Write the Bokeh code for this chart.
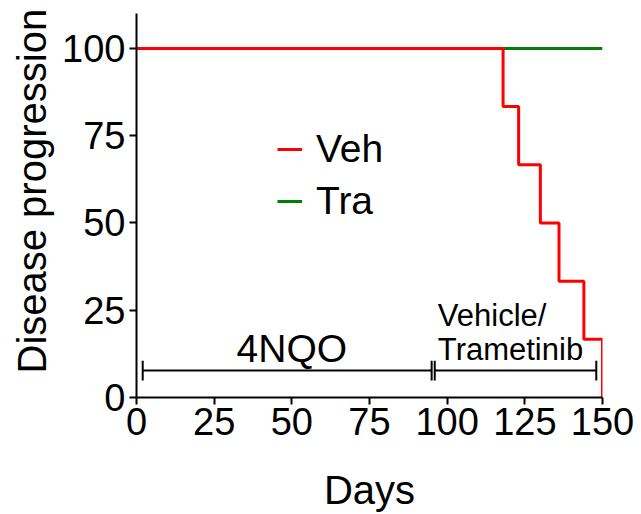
from bokeh.plotting import figure
from bokeh.models import Range1d, FixedTicker, Legend, LegendItem, Title
from bokeh.embed import file_html
from bokeh.resources import INLINE
from bokeh.core.properties import value

# Data
veh_days = [0, 118, 123, 130, 136, 144, 150]
veh_values = [100, 83.33, 66.67, 50, 33.33, 16.67, 0]
tra_days = [0, 150]
tra_values = [100, 100]
x_ticks = [0, 25, 50, 75, 100, 125, 150]
y_ticks = [0, 25, 50, 75, 100]

# Treatment periods (annotation brackets)
period_starts = [2, 96]
period_ends = [95, 148]
bracket_y = 7.7
bracket_half = 2.8

FONT = "Liberation Sans"

p = figure(width=641, height=514, output_backend="svg", toolbar_location=None,
           x_range=Range1d(0, 150), y_range=Range1d(0, 110),
           min_border_left=136, min_border_right=39, min_border_top=13, min_border_bottom=115)
p.outline_line_color = None
p.xgrid.visible = False
p.ygrid.visible = False
p.background_fill_color = "white"
p.border_fill_color = "white"

r_tra = p.step(tra_days, tra_values, mode="after", line_color="#008000", line_width=3)
r_veh = p.step(veh_days, veh_values, mode="after", line_color="#FF0000", line_width=3)

# Brackets
p.segment(x0=period_starts, y0=[bracket_y]*2, x1=period_ends, y1=[bracket_y]*2,
          line_color="black", line_width=2)
ends = period_starts + period_ends
p.segment(x0=ends, y0=[bracket_y - bracket_half]*4, x1=ends, y1=[bracket_y + bracket_half]*4,
          line_color="black", line_width=2)

p.text(x=[50], y=[14.0], text=["4NQO"], text_align="center", text_baseline="middle",
       text_font=value(FONT), text_font_size="39px", text_color="black")
p.text(x=[97, 97], y=[23.6, 13.7], text=["Vehicle/", "Trametinib"], text_align="left",
       text_baseline="middle", text_font=value(FONT), text_font_size="31px", text_color="black")

for ax in (p.xaxis[0], p.yaxis[0]):
    ax.axis_line_width = 2
    ax.axis_line_color = "black"
    ax.major_tick_line_width = 2
    ax.major_tick_line_color = "black"
    ax.minor_tick_line_color = None
    ax.major_tick_in = 0
    ax.major_tick_out = 7
    ax.major_label_text_font = FONT
    ax.major_label_text_font_size = "38px"
    ax.major_label_text_color = "black"
    ax.axis_label_text_font = FONT
    ax.axis_label_text_font_size = "40px"
    ax.axis_label_text_font_style = "normal"
    ax.axis_label_text_color = "black"

p.xaxis.ticker = FixedTicker(ticks=x_ticks)
p.yaxis.ticker = FixedTicker(ticks=y_ticks)
p.xaxis.axis_label = "Days"
p.xaxis.major_label_standoff = 3
p.yaxis.major_label_standoff = 4
p.xaxis.axis_label_standoff = 30

ytitle = Title(text="Disease progression", align="left", offset=24, standoff=12,
               text_font=FONT, text_font_size="40px", text_font_style="normal",
               text_color="black")
p.add_layout(ytitle, "left")

legend = Legend(items=[LegendItem(label="Veh", renderers=[r_veh]),
                       LegendItem(label="Tra", renderers=[r_tra])],
                location=(141, 174))
legend.border_line_color = None
legend.background_fill_alpha = 0
legend.label_text_font = FONT
legend.label_text_font_size = "39px"
legend.label_text_color = "black"
legend.glyph_width = 25
legend.label_standoff = 14
legend.spacing = 8
legend.padding = 0
legend.margin = 0
p.add_layout(legend, "center")

open("out.html", "w").write(file_html(p, INLINE))
